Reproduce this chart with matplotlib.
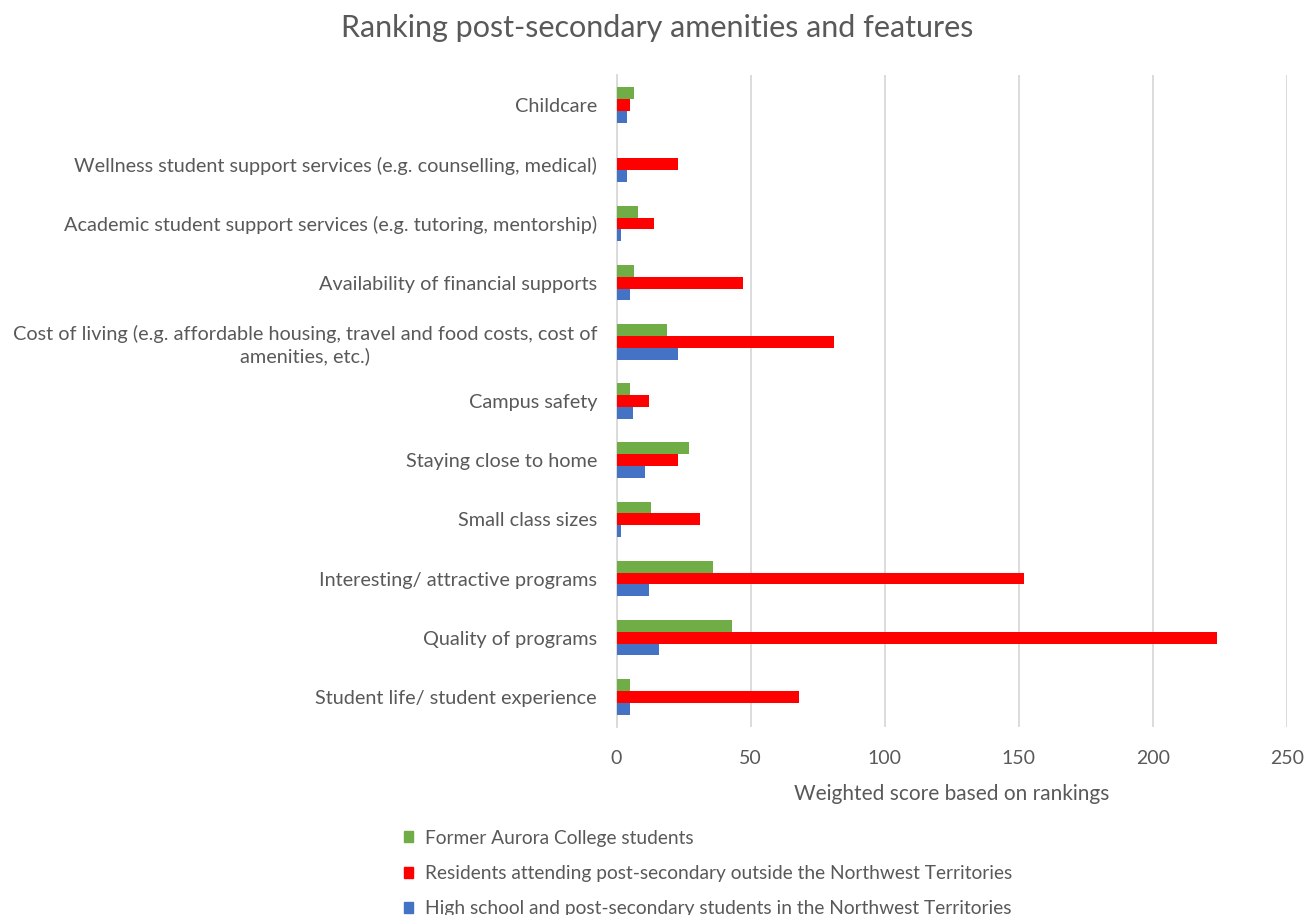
import numpy as np
import matplotlib.pyplot as plt
from matplotlib.patches import Patch

plt.rcParams['font.family'] = ['Lato', 'DejaVu Sans']

# Categories listed top to bottom
CATEGORIES = [
    "Childcare",
    "Wellness student support services (e.g. counselling, medical)",
    "Academic student support services (e.g. tutoring, mentorship)",
    "Availability of financial supports",
    "Cost of living (e.g. affordable housing, travel and food costs, cost of\namenities, etc.)",
    "Campus safety",
    "Staying close to home",
    "Small class sizes",
    "Interesting/ attractive programs",
    "Quality of programs",
    "Student life/ student experience",
]

FORMER_AURORA = [6.5, 0, 8, 6.5, 19, 5, 27, 13, 36, 43, 5]
OUTSIDE_NWT   = [5, 23, 14, 47, 81, 12, 23, 31, 152, 224, 68]
IN_NWT        = [4, 4, 1.5, 5, 23, 6, 10.5, 1.5, 12, 16, 5]

SERIES = [
    ("Former Aurora College students", FORMER_AURORA, '#70AD47'),
    ("Residents attending post-secondary outside the Northwest Territories", OUTSIDE_NWT, '#FF0000'),
    ("High school and post-secondary students in the Northwest Territories", IN_NWT, '#4472C4'),
]

TEXT = '#595959'

fig = plt.figure(figsize=(13.15, 9.15), dpi=100)
ax = fig.add_axes([616.5 / 1315, 1 - 726.5 / 915, (1287 - 616.5) / 1315, (726.5 - 75.5) / 915])

y = np.arange(len(CATEGORIES))
bh = 0.2
for i, (name, vals, col) in enumerate(SERIES):
    ax.barh(y + (i - 1) * bh, vals, height=bh, color=col, label=name, zorder=3)

ax.set_ylim(len(CATEGORIES) - 0.5, -0.5)
ax.set_yticks(y)
ax.set_yticklabels(CATEGORIES, fontsize=14.3, color=TEXT, multialignment='center',
                   linespacing=1.25)
ax.set_xlim(0, 250)
ax.set_xticks(np.arange(0, 251, 50))
ax.tick_params(axis='x', labelsize=14, colors=TEXT, length=0, pad=17)
ax.tick_params(axis='y', length=0, pad=14)
ax.grid(axis='x', color='#D9D9D9', lw=1.3, zorder=0)
for s in ['top', 'right', 'bottom']:
    ax.spines[s].set_visible(False)
ax.spines['left'].set_color('#D9D9D9')
ax.spines['left'].set_linewidth(1.3)
ax.set_xlabel('Weighted score based on rankings', fontsize=15, color=TEXT, labelpad=12)

fig.suptitle('Ranking post-secondary amenities and features', fontsize=22, color=TEXT, y=0.985)

handles = [Patch(color=col, label=name) for name, _, col in SERIES]
fig.legend(handles=handles, loc='upper left', bbox_to_anchor=(398 / 1315, 1 - 824 / 915),
           frameon=False, fontsize=13.8, labelcolor=TEXT, handlelength=0.5, handleheight=0.5,
           handletextpad=0.6, labelspacing=0.95, borderaxespad=0, borderpad=0.3)

fig.savefig('out.png', dpi=100)
